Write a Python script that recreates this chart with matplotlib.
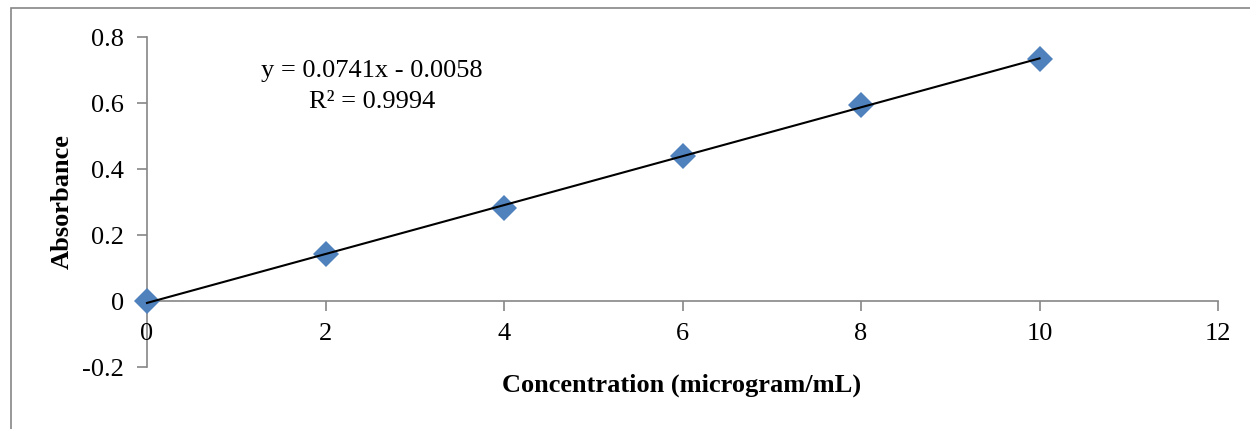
import matplotlib.pyplot as plt
import matplotlib.patches as patches
import numpy as np

# standard curve readings
concentration = [0, 2, 4, 6, 8, 10]
absorbance = [0.0, 0.142, 0.282, 0.439, 0.594, 0.733]

# linear trendline as reported on the chart
slope = 0.0741
intercept = -0.0058
r_squared = 0.9994

x_ticks = [0, 2, 4, 6, 8, 10, 12]
y_ticks = [-0.2, 0, 0.2, 0.4, 0.6, 0.8]
y_tick_labels = ['-0.2', '0', '0.2', '0.4', '0.6', '0.8']

plt.rcParams['font.family'] = 'Liberation Serif'
axis_grey = '#868686'

fig = plt.figure(figsize=(12.5, 4.29), dpi=100)
ax = fig.add_axes([0.1176, 0.1445, 0.8568, 0.7692])

# chart area border (runs off the right and bottom of the picture)
border = patches.Rectangle((10.5 / 1250, -0.1), 1.2, 1 - 8.5 / 429 + 0.1,
                           transform=fig.transFigure, fill=False,
                           edgecolor=axis_grey, linewidth=1.2, clip_on=False)
fig.patches.append(border)

x_fit = np.array([concentration[0], concentration[-1]])
ax.plot(x_fit, slope * x_fit + intercept, color='black', linewidth=1.5, zorder=3,
        clip_on=False)
ax.plot(concentration, absorbance, linestyle='none', marker='D', markersize=13,
        color='#4F81BD', markeredgewidth=0, zorder=2, clip_on=False)

ax.set_xlim(0, 12)
ax.set_ylim(-0.2, 0.8)
ax.set_xticks(x_ticks)
ax.set_yticks(y_ticks)
ax.set_yticklabels(y_tick_labels)

for side in ['top', 'right']:
    ax.spines[side].set_visible(False)
ax.spines['bottom'].set_position(('data', 0))
ax.spines['bottom'].set_color(axis_grey)
ax.spines['left'].set_color(axis_grey)
ax.spines['bottom'].set_linewidth(1.2)
ax.spines['left'].set_linewidth(1.2)
ax.spines['left'].set_zorder(1)
ax.spines['bottom'].set_zorder(1)
ax.tick_params(axis='x', direction='out', length=7, width=1.2, color=axis_grey,
               labelsize=19, pad=9)
ax.tick_params(axis='y', direction='out', length=7, width=1.2, color=axis_grey,
               labelsize=19, pad=9.5)

ax.text(2.52, 0.698, f'y = {slope}x - {abs(intercept)}', fontsize=19, ha='center', va='center')
ax.text(2.52, 0.603, f'R² = {r_squared}', fontsize=19, ha='center', va='center')

fig.text(682 / 1250, 1 - 385 / 429, 'Concentration (microgram/mL)', fontsize=19,
         fontweight='bold', ha='center', va='center')
fig.text(62 / 1250, 1 - 202 / 429, 'Absorbance', fontsize=19, fontweight='bold',
         rotation=90, ha='center', va='center')

fig.savefig('out.png', dpi=100)
